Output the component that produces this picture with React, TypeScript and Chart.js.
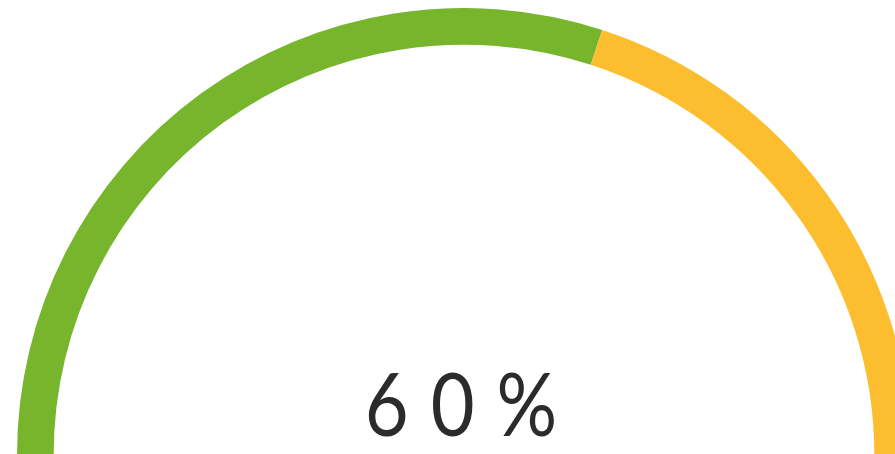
import React, { useEffect, useRef } from "react";
import { Chart, registerables } from "chart.js";

Chart.register(...registerables);

const categories = ["Done", "Remaining"];
const values = [60, 40];
const colors = ["#76B52C", "#FCBD2E"];
const centerLabel = "60%";

const centerTextPlugin = {
  id: "centerText",
  afterDraw(chart: any) {
    const meta = chart.getDatasetMeta(0);
    const arc = meta.data[0];
    if (!arc) return;
    const ctx = chart.ctx;
    ctx.save();
    ctx.font = "400 88px Lato";
    ctx.fillStyle = "#2b2b2b";
    ctx.textBaseline = "alphabetic";
    ctx.textAlign = "left";
    const sx = 0.86;
    const spacing = 22;
    const chars = centerLabel.split("");
    const widths = chars.map((c) => ctx.measureText(c).width * sx);
    const total = widths.reduce((a, b) => a + b, 0) + spacing * (chars.length - 1);
    let x = arc.x - 3 - total / 2;
    const y = arc.y - 19;
    chars.forEach((c, i) => {
      ctx.save();
      ctx.translate(x, y);
      ctx.scale(sx, 1);
      ctx.fillText(c, 0, 0);
      ctx.restore();
      x += widths[i] + spacing;
    });
    ctx.restore();
  },
};

export default function App() {
  const ref = useRef<HTMLCanvasElement>(null);
  useEffect(() => {
    if (!ref.current) return;
    const chart = new Chart(ref.current, {
      type: "doughnut",
      data: {
        labels: categories,
        datasets: [
          {
            data: values,
            backgroundColor: colors,
            borderWidth: 0,
          },
        ],
      },
      options: {
        animation: false,
        responsive: true,
        maintainAspectRatio: false,
        rotation: -90,
        circumference: 180,
        cutout: "91.8%",
        layout: { padding: 0 },
        plugins: {
          legend: { display: false },
          tooltip: { enabled: false },
        },
      },
      plugins: [centerTextPlugin],
    });
    return () => chart.destroy();
  }, []);
  return (
    <div
      style={{
        position: "fixed",
        left: 0,
        top: 0,
        width: 895,
        height: 454,
        overflow: "hidden",
        background: "#fff",
      }}
    >
      <div style={{ position: "absolute", left: 9, top: 8, width: 910, height: 447 }}>
        <canvas ref={ref} />
      </div>
    </div>
  );
}
